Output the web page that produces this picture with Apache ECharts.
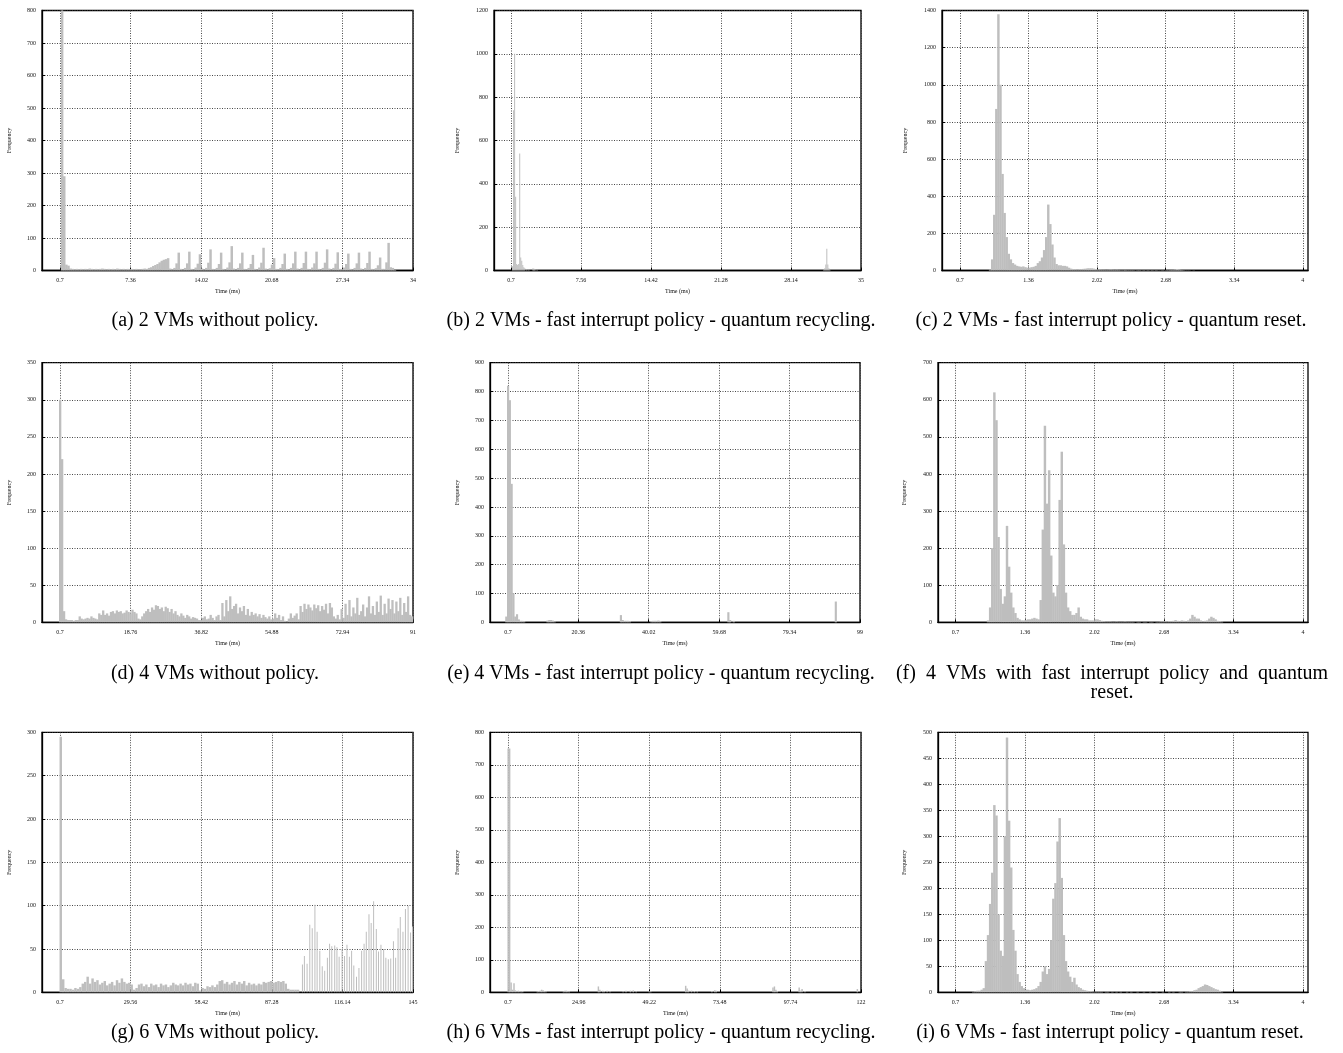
<!DOCTYPE html>
<html lang="en">
<head>
<meta charset="UTF-8">
<title>interrupt latency histograms</title>
<style>
  html, body { margin: 0; padding: 0; background: #fff; }
  #main { width: 1343px; height: 1053px; }
</style>
<script src="https://cdn.jsdelivr.net/npm/echarts@6/dist/echarts.min.js"></script>
</head>
<body>
<div id="main"></div>
<script>
// ---- tick labels (ms) ----
var xTicksA = [0.7, 7.36, 14.02, 20.68, 27.34, 34];
var xTicksB = [0.7, 7.56, 14.42, 21.28, 28.14, 35];
var xTicksC = [0.7, 1.36, 2.02, 2.68, 3.34, 4];
var xTicksD = [0.7, 18.76, 36.82, 54.88, 72.94, 91];
var xTicksE = [0.7, 20.36, 40.02, 59.68, 79.34, 99];
var xTicksF = [0.7, 1.36, 2.02, 2.68, 3.34, 4];
var xTicksG = [0.7, 29.56, 58.42, 87.28, 116.14, 145];
var xTicksH = [0.7, 24.96, 49.22, 73.48, 97.74, 122];
var xTicksI = [0.7, 1.36, 2.02, 2.68, 3.34, 4];

// ---- (a) 2 VMs without policy : bins of 0.2 ms from 0.8 ----
var aStart = 0.8, aBin = 0.2;
var aCounts = [
  800, 290, 18, 15, 6, 5, 4, 5, 4, 5,
  4, 5, 4, 6, 5, 4, 5, 4, 5, 6,
  5, 4, 5, 4, 5, 4, 6, 5, 4, 5,
  4, 5, 4, 5, 4, 5, 4, 4, 5, 6,
  5, 8, 10, 14, 17, 20, 25, 30, 33, 35,
  38, 6, 4, 8, 22, 55, 5, 3, 8, 22,
  58, 5, 3, 9, 21, 50, 6, 3, 8, 24,
  65, 5, 4, 8, 20, 55, 5, 3, 9, 25,
  75, 6, 3, 8, 22, 55, 5, 4, 8, 20,
  48, 5, 3, 9, 24, 70, 6, 3, 7, 18,
  38, 5, 4, 8, 20, 52, 5, 3, 8, 22,
  58, 6, 3, 8, 23, 58, 5, 4, 9, 22,
  58, 5, 3, 8, 24, 65, 6, 3, 8, 21,
  56, 5, 4, 9, 20, 52, 5, 3, 8, 22,
  55, 6, 3, 8, 23, 58, 5, 4, 7, 16,
  40, 5, 5, 25, 85, 10, 8, 2, 0, 0
];

// ---- (b) 2 VMs - recycling : [ms, count], bins of 0.1 ms ----
var bBin = 0.1;
var bBars = [
  [0.85, 20], [0.95, 740], [1.05, 1000], [1.15, 340], [1.25, 30], [1.35, 25],
  [1.45, 30], [1.55, 540], [1.65, 60], [1.75, 45], [1.85, 25], [1.95, 15],
  [2.05, 10], [2.25, 6], [2.45, 5], [2.85, 10], [2.95, 8], [3.05, 6], [3.25, 4],
  [31.35, 5], [31.45, 10], [31.55, 28], [31.65, 100], [31.75, 28], [31.85, 10], [31.95, 4]
];

// ---- (c) 2 VMs - reset : bins of 0.02 ms from 0.96 ----
var cStart = 0.96, cBin = 0.02;
var cCounts = [
  0, 5, 60, 300, 870, 1380, 1000, 520, 310, 180,
  90, 60, 40, 32, 25, 22, 20, 22, 18, 15,
  15, 18, 20, 25, 40, 50, 70, 110, 180, 355,
  250, 140, 70, 35, 28, 28, 25, 25, 22, 15,
  10, 8, 8, 7, 8, 8, 9, 10, 12, 12,
  12, 10, 8, 5, 5, 4, 4, 3, 4, 5,
  4, 3, 4, 3, 2, 2, 3, 2, 2, 2,
  2, 1, 2, 2, 1, 2, 1, 2, 1, 2,
  1, 2, 1, 1, 2, 1, 2, 2, 3, 3,
  5, 8, 6, 3, 2, 1, 1, 1, 0, 1
];

// ---- (d) 4 VMs without policy : bins of 0.5 ms from 0.5 ----
var dStart = 0.5, dBin = 0.5;
var dCounts = [
  300, 220, 15, 4, 3, 3, 3, 2, 3, 3,
  8, 5, 4, 5, 6, 5, 8, 6, 5, 4,
  12, 10, 16, 10, 12, 9, 14, 15, 12, 16,
  14, 15, 12, 13, 16, 14, 12, 17, 14, 12,
  5, 4, 8, 12, 15, 18, 14, 20, 17, 23,
  22, 18, 20, 15, 21, 19, 14, 18, 12, 15,
  10, 8, 12, 9, 6, 10, 8, 5, 7, 6,
  5, 3, 3, 6, 8, 4, 5, 10, 6, 3,
  8, 10, 3, 26, 8, 30, 15, 35, 18, 22,
  25, 12, 20, 15, 22, 10, 18, 9, 14, 10,
  12, 8, 11, 6, 10, 7, 5, 8, 4, 5,
  12, 6, 10, 3, 8, 2, 1, 5, 12, 6,
  9, 12, 4, 22, 14, 25, 18, 24, 20, 16,
  24, 19, 23, 15, 22, 17, 25, 12, 26, 20,
  8, 5, 10, 4, 18, 6, 25, 10, 30, 8,
  20, 12, 33, 10, 15, 24, 8, 20, 35, 12,
  22, 10, 28, 14, 36, 10, 25, 12, 32, 18,
  30, 12, 28, 15, 33, 10, 26, 14, 35, 10,
  8
];

// ---- (e) 4 VMs - recycling : [ms, count], bins of 0.5 ms ----
var eBin = 0.5;
var eBars = [
  [0.25, 20], [0.75, 820], [1.25, 770], [1.75, 480], [2.25, 100], [2.75, 20],
  [3.25, 28], [3.75, 10], [4.25, 5], [4.75, 5], [5.25, 4],
  [11.75, 6], [12.25, 8], [12.75, 8], [13.25, 6], [13.75, 3],
  [32.25, 25], [32.75, 8], [33.25, 5], [33.75, 5], [34.25, 5], [34.75, 4],
  [40.75, 4], [41.25, 5], [41.75, 5], [42.25, 5], [42.75, 6], [43.25, 4],
  [62.25, 35], [62.75, 8], [63.75, 5], [92.25, 72]
];

// ---- (f) 4 VMs - reset : bins of 0.02 ms from 0.96 ----
var fStart = 0.96, fBin = 0.02;
var fCounts = [
  0, 0, 5, 40, 200, 620, 545, 230, 90, 50,
  70, 260, 150, 80, 40, 25, 12, 8, 5, 5,
  6, 8, 8, 10, 12, 10, 8, 60, 250, 530,
  320, 410, 180, 80, 70, 100, 330, 460, 210, 80,
  40, 30, 20, 20, 25, 40, 15, 10, 8, 8,
  5, 5, 5, 8, 8, 6, 4, 3, 2, 2,
  2, 1, 1, 2, 1, 1, 1, 2, 1, 1,
  1, 1, 0, 1, 1, 0, 1, 1, 0, 1,
  1, 0, 1, 1, 2, 2, 3, 2, 3, 3,
  4, 6, 4, 3, 5, 4, 3, 5, 10, 20,
  15, 10, 10, 5, 3, 4, 5, 10, 15, 12,
  8, 4, 3, 2
];

// ---- (g) 6 VMs without policy : bins of 1 ms from 0.5, then sparse spikes ----
var gStart = 0.5, gBin = 1.0;
var gCounts = [
  295, 15, 5, 4, 4, 3, 5, 4, 6, 10,
  12, 18, 10, 16, 12, 14, 9, 11, 13, 8,
  10, 12, 8, 14, 11, 16, 12, 10, 11, 9,
  3, 5, 9, 10, 7, 9, 6, 10, 8, 9,
  6, 10, 8, 9, 6, 8, 11, 9, 8, 10,
  8, 11, 9, 10, 7, 11, 10, 2, 5, 4,
  7, 6, 8, 6, 9, 13, 14, 10, 12, 9,
  11, 13, 9, 12, 10, 13, 8, 11, 9, 10,
  8, 10, 9, 12, 11, 12, 13, 11, 12, 13,
  12, 13, 10, 4, 3, 3, 3, 3
];
var gSpikeBin = 0.4;
var gSpikes = [
  [99.8, 32], [100.6, 42], [101.7, 33], [102.8, 78], [103.8, 74], [104.9, 101],
  [105.8, 70], [106.9, 48], [107.9, 30], [108.9, 25], [110.0, 40], [110.9, 56],
  [111.8, 53], [113.0, 54], [113.9, 52], [114.8, 41], [116.0, 50], [117.0, 42],
  [118.0, 55], [119.0, 41], [119.9, 48], [120.8, 31], [121.9, 18], [122.9, 28],
  [124.0, 48], [125.0, 56], [125.9, 70], [127.0, 90], [127.9, 80], [128.9, 105],
  [130.0, 73], [130.9, 47], [131.9, 55], [133.0, 50], [133.9, 40], [134.9, 38],
  [135.9, 39], [137.0, 59], [137.9, 40], [138.9, 74], [139.8, 87], [140.9, 70],
  [141.9, 96], [143.0, 100], [144.0, 69], [144.8, 76]
];

// ---- (h) 6 VMs - recycling : [ms, count], bins of 0.5 ms ----
var hBin = 0.5;
var hBars = [
  [0.75, 750], [1.25, 750], [1.75, 30], [2.25, 8], [2.75, 28], [3.25, 6],
  [3.75, 4], [4.25, 5], [4.75, 4], [5.25, 3], [5.75, 4],
  [10.75, 3], [11.25, 4], [11.75, 5], [12.25, 8], [12.75, 6], [13.25, 4], [13.75, 3],
  [19.75, 3], [20.25, 5], [20.75, 5], [21.25, 4], [21.75, 3],
  [31.75, 18], [32.25, 8], [33.25, 5], [33.75, 4], [34.75, 5], [35.75, 3],
  [40.25, 3], [41.25, 5], [42.75, 5], [43.75, 6], [44.75, 3], [49.25, 3], [49.75, 3],
  [61.75, 20], [62.25, 12], [62.75, 5], [63.75, 5], [64.75, 4], [65.75, 3],
  [70.75, 4], [71.75, 6], [72.25, 5],
  [91.75, 15], [92.25, 18], [92.75, 8], [93.25, 4],
  [100.75, 15], [101.25, 5], [101.75, 10], [102.75, 4], [120.75, 10]
];

// ---- (i) 6 VMs - reset : bins of 0.02 ms from 0.86 ----
var iStart = 0.86, iBin = 0.02;
var iCounts = [
  1, 2, 3, 3, 5, 8, 60, 110, 170, 230,
  360, 340, 150, 80, 70, 300, 490, 330, 240, 120,
  80, 35, 20, 12, 8, 5, 5, 4, 5, 6,
  8, 12, 20, 40, 50, 35, 45, 100, 180, 210,
  290, 335, 220, 110, 60, 40, 30, 20, 28, 15,
  10, 8, 5, 4, 3, 2, 2, 1, 1, 1,
  1, 1, 0, 1, 1, 0, 1, 0, 1, 0,
  1, 0, 0, 1, 0, 1, 0, 0, 1, 0,
  0, 1, 0, 0, 1, 0, 0, 1, 0, 0,
  1, 0, 0, 1, 0, 1, 0, 0, 1, 1,
  0, 1, 1, 2, 2, 4, 5, 8, 10, 12,
  15, 14, 12, 10, 8, 6, 5, 3, 1, 0
];

var captions = [
  '(a) 2 VMs without policy.',
  '(b) 2 VMs - fast interrupt policy - quantum recycling.',
  '(c) 2 VMs - fast interrupt policy - quantum reset.',
  '(d) 4 VMs without policy.',
  '(e) 4 VMs - fast interrupt policy - quantum recycling.',
  '(f)  4  VMs  with  fast  interrupt  policy  and  quantum\nreset.',
  '(g) 6 VMs without policy.',
  '(h) 6 VMs - fast interrupt policy - quantum recycling.',
  '(i) 6 VMs - fast interrupt policy - quantum reset.'
];

// bin counts -> [centre, count]
function binPairs(start, bin, counts) {
  return counts.map(function (c, k) {
    return [+(start + (k + 0.5) * bin).toFixed(4), c];
  });
}

var serif = '"Liberation Serif", "Times New Roman", serif';
var barColor = '#bebebe';

// layout of each panel: [left, top, width, height]
var panels = [
  { rect: [42, 10.5, 371, 260], xMin: -1.0, xMax: 34, ticks: xTicksA, yMax: 800, yStep: 100, yGap: 30,
    layers: [{ data: binPairs(aStart, aBin, aCounts), bin: aBin }], cap: [215, 322] },
  { rect: [494, 10.5, 367, 260], xMin: -0.97, xMax: 35, ticks: xTicksB, yMax: 1200, yStep: 200, yGap: 34,
    layers: [{ data: bBars, bin: bBin }], cap: [661, 322] },
  { rect: [942, 10.5, 366, 260], xMin: 0.527, xMax: 4.05, ticks: xTicksC, yMax: 1400, yStep: 200, yGap: 34,
    layers: [{ data: binPairs(cStart, cBin, cCounts), bin: cBin }], cap: [1111, 322] },
  { rect: [42, 362.7, 371, 259.6], xMin: -3.9, xMax: 91, ticks: xTicksD, yMax: 350, yStep: 50, yGap: 30,
    layers: [{ data: binPairs(dStart, dBin, dCounts), bin: dBin }], cap: [215, 675] },
  { rect: [490, 362.7, 370, 259.6], xMin: -4.3, xMax: 99, ticks: xTicksE, yMax: 900, yStep: 100, yGap: 30,
    layers: [{ data: eBars, bin: eBin }], cap: [661, 675] },
  { rect: [938, 362.7, 370, 259.6], xMin: 0.535, xMax: 4.047, ticks: xTicksF, yMax: 700, yStep: 100, yGap: 31,
    layers: [{ data: binPairs(fStart, fBin, fCounts), bin: fBin }], cap: [1112, 675] },
  { rect: [42, 732.3, 371, 260], xMin: -6.67, xMax: 145, ticks: xTicksG, yMax: 300, yStep: 50, yGap: 30,
    layers: [{ data: binPairs(gStart, gBin, gCounts), bin: gBin }, { data: gSpikes, bin: gSpikeBin }], cap: [215, 1034] },
  { rect: [490, 732.3, 371, 260], xMin: -5.5, xMax: 122, ticks: xTicksH, yMax: 800, yStep: 100, yGap: 30,
    layers: [{ data: hBars, bin: hBin }], cap: [661, 1034] },
  { rect: [938, 732.3, 370, 260], xMin: 0.535, xMax: 4.047, ticks: xTicksI, yMax: 500, yStep: 50, yGap: 31,
    layers: [{ data: binPairs(iStart, iBin, iCounts), bin: iBin }], cap: [1110, 1034] }
];

var gridLine = { show: true, lineStyle: { type: [1, 1.5], color: '#333', width: 0.9 } };
var smallText = { fontFamily: serif, fontSize: 6, color: '#111' };

var grids = [], xAxes = [], yAxes = [], series = [], titles = [];

panels.forEach(function (p, gi) {
  grids.push({
    left: p.rect[0], top: p.rect[1], width: p.rect[2], height: p.rect[3],
    show: true, borderColor: '#000', borderWidth: 1.3, containLabel: false
  });
  yAxes.push({
    type: 'value', gridIndex: gi, min: 0, max: p.yMax, interval: p.yStep,
    name: 'Frequency', nameLocation: 'middle', nameGap: p.yGap, nameTextStyle: smallText,
    axisLine: { show: true, onZero: false, lineStyle: { color: '#000', width: 1.3 } },
    axisTick: { show: true, inside: true, length: 3, lineStyle: { color: '#000' } },
    axisLabel: Object.assign({ margin: 6, formatter: function (v) { return String(v); } }, smallText),
    splitLine: gridLine
  });
  p.layers.forEach(function (layer, li) {
    var xi = xAxes.length;
    xAxes.push({
      type: 'value', gridIndex: gi, min: p.xMin, max: p.xMax, show: li === 0,
      name: 'Time (ms)', nameLocation: 'middle', nameGap: 18, nameTextStyle: smallText,
      axisLine: { show: true, onZero: false, lineStyle: { color: '#000', width: 1.3 } },
      axisTick: { show: true, inside: true, length: 3, customValues: p.ticks, lineStyle: { color: '#000' } },
      axisLabel: Object.assign({
        margin: 7, customValues: p.ticks,
        formatter: function (v) { return String(+(+v).toFixed(2)); }
      }, smallText),
      splitLine: li === 0 ? gridLine : { show: false }
    });
    var px = p.rect[2] / (p.xMax - p.xMin) * layer.bin;
    series.push({
      type: 'bar', xAxisIndex: xi, yAxisIndex: gi, data: layer.data,
      barWidth: Math.max(1, px + (li === 0 && p.layers.length === 1 && px > 1.5 ? 0.35 : 0)),
      itemStyle: { color: barColor }, silent: true, clip: true
    });
  });
  titles.push({
    text: captions[gi], left: p.cap[0], top: p.cap[1] - 11, textAlign: 'center', padding: 0,
    textStyle: { fontFamily: serif, fontSize: 20, fontWeight: 'normal', color: '#000', lineHeight: 19 }
  });
});

var chart = echarts.init(document.getElementById('main'), null, { renderer: 'canvas' });
chart.setOption({
  animation: false,
  backgroundColor: '#fff',
  title: titles,
  grid: grids,
  xAxis: xAxes,
  yAxis: yAxes,
  series: series
});
</script>
</body>
</html>
